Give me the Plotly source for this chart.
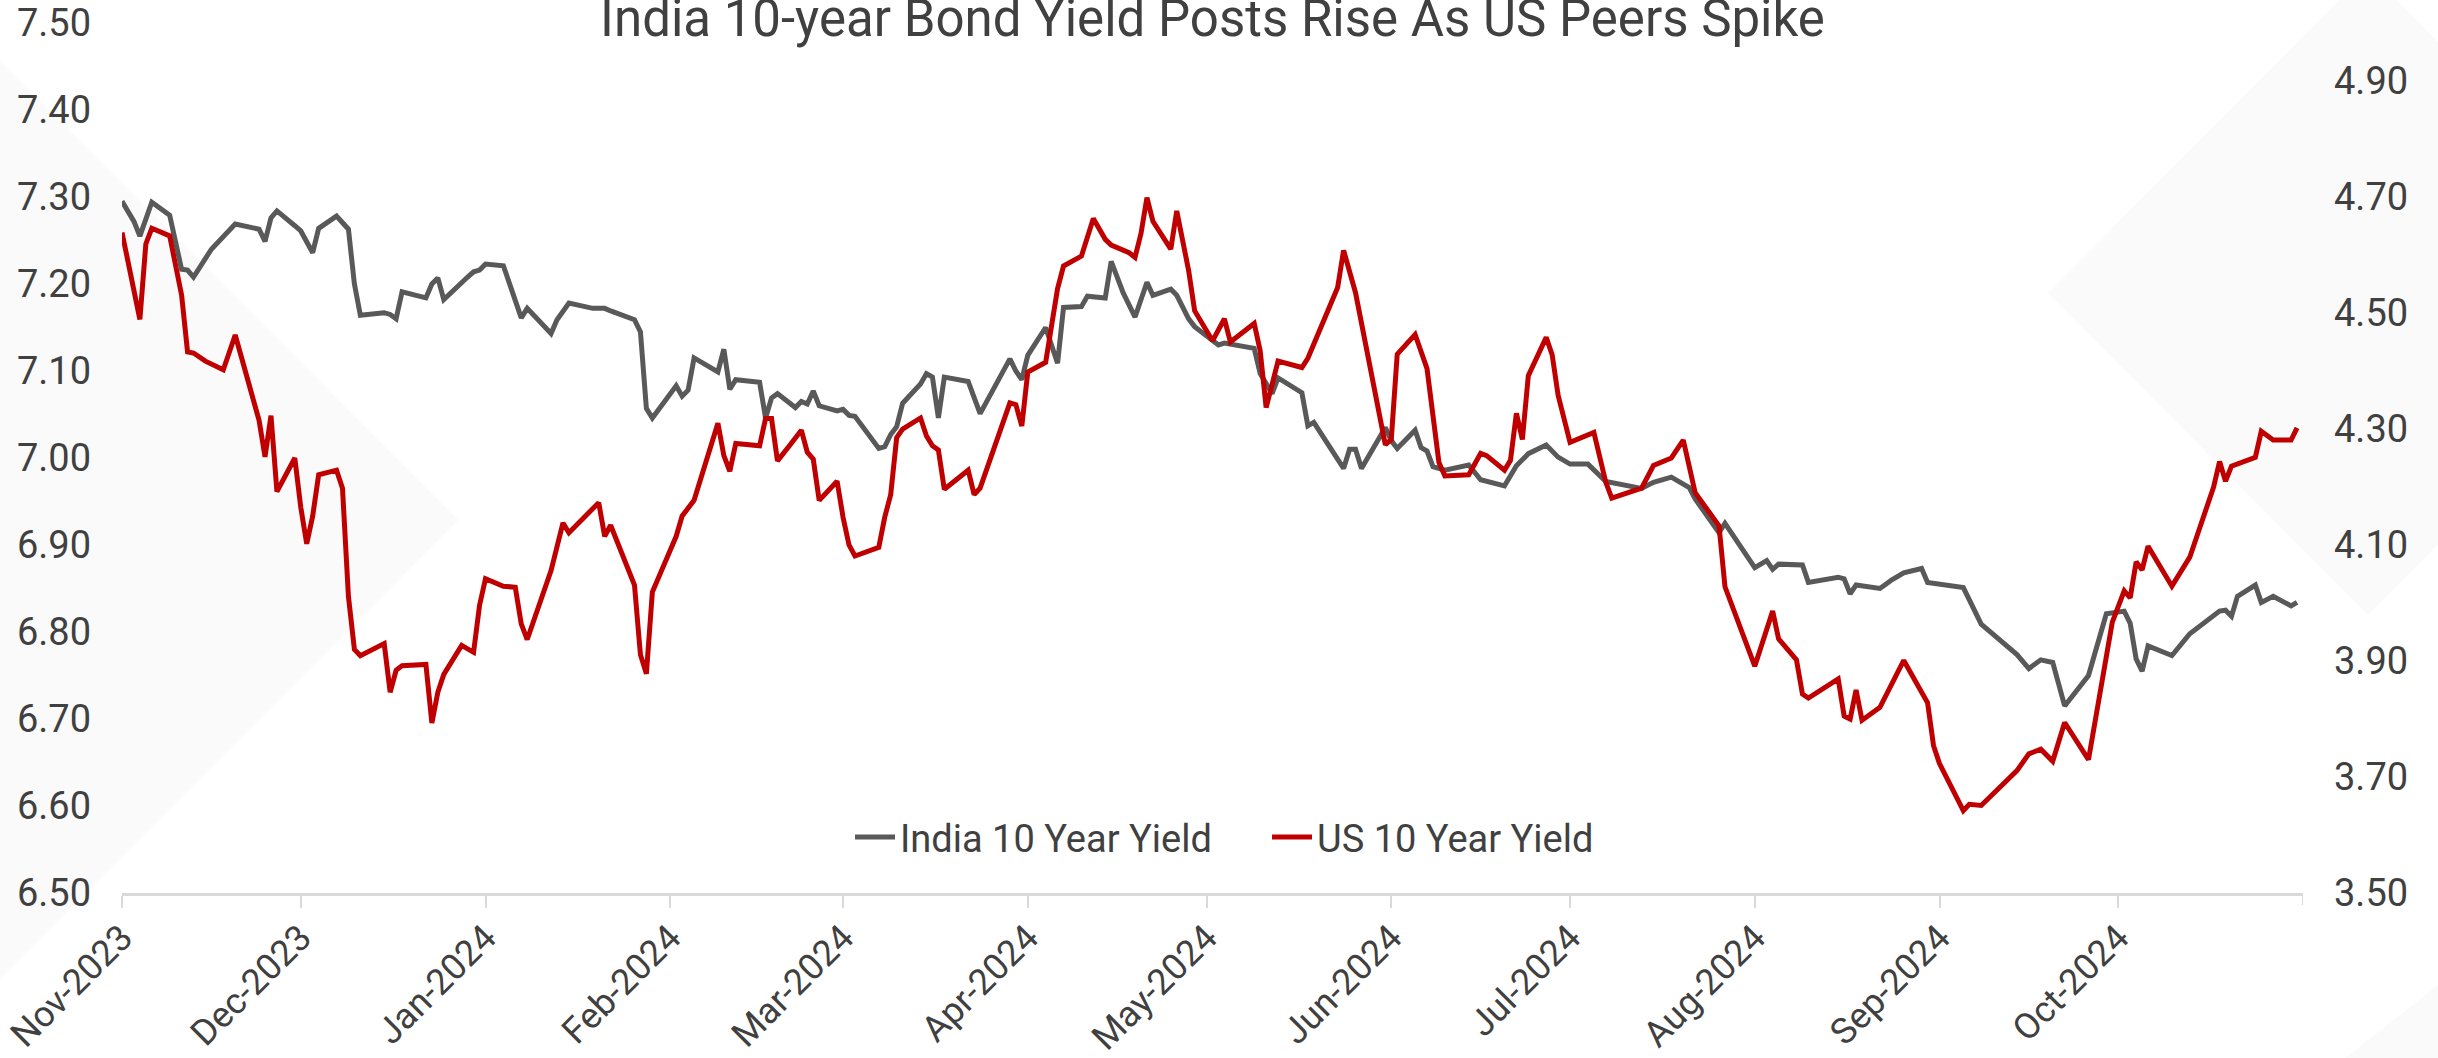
import plotly.graph_objects as go

# ---- India 10-year government bond yield (%), left axis ----
india_dates = [
    "2023-11-01", "2023-11-03", "2023-11-04", "2023-11-06", "2023-11-09", "2023-11-11", "2023-11-12",
    "2023-11-13", "2023-11-16", "2023-11-20", "2023-11-24", "2023-11-25", "2023-11-26", "2023-11-27",
    "2023-11-30", "2023-12-01", "2023-12-03", "2023-12-04", "2023-12-07", "2023-12-09", "2023-12-10",
    "2023-12-11", "2023-12-15", "2023-12-16", "2023-12-17", "2023-12-18", "2023-12-22", "2023-12-23",
    "2023-12-24", "2023-12-25", "2023-12-29", "2023-12-30", "2023-12-31", "2024-01-01", "2024-01-04",
    "2024-01-06", "2024-01-07", "2024-01-08", "2024-01-12", "2024-01-13", "2024-01-14", "2024-01-15",
    "2024-01-19", "2024-01-21", "2024-01-22", "2024-01-26", "2024-01-27", "2024-01-28", "2024-01-29",
    "2024-02-02", "2024-02-03", "2024-02-04", "2024-02-05", "2024-02-09", "2024-02-10", "2024-02-11",
    "2024-02-12", "2024-02-16", "2024-02-17", "2024-02-18", "2024-02-19", "2024-02-22", "2024-02-23",
    "2024-02-24", "2024-02-25", "2024-02-26", "2024-02-29", "2024-03-01", "2024-03-02", "2024-03-03",
    "2024-03-07", "2024-03-08", "2024-03-09", "2024-03-10", "2024-03-11", "2024-03-14", "2024-03-15",
    "2024-03-16", "2024-03-17", "2024-03-18", "2024-03-22", "2024-03-24", "2024-03-29", "2024-03-30",
    "2024-03-31", "2024-04-01", "2024-04-04", "2024-04-06", "2024-04-07", "2024-04-10", "2024-04-11",
    "2024-04-14", "2024-04-15", "2024-04-17", "2024-04-19", "2024-04-21", "2024-04-22", "2024-04-25",
    "2024-04-26", "2024-04-28", "2024-04-29", "2024-05-02", "2024-05-03", "2024-05-04", "2024-05-09",
    "2024-05-10", "2024-05-12", "2024-05-13", "2024-05-17", "2024-05-18", "2024-05-19", "2024-05-24",
    "2024-05-25", "2024-05-26", "2024-05-27", "2024-05-31", "2024-06-01", "2024-06-02", "2024-06-05",
    "2024-06-06", "2024-06-07", "2024-06-08", "2024-06-10", "2024-06-14", "2024-06-16", "2024-06-20",
    "2024-06-21", "2024-06-22", "2024-06-24", "2024-06-27", "2024-06-29", "2024-07-01", "2024-07-04",
    "2024-07-07", "2024-07-13", "2024-07-15", "2024-07-18", "2024-07-20", "2024-07-21", "2024-07-22",
    "2024-07-26", "2024-07-27", "2024-08-01", "2024-08-03", "2024-08-04", "2024-08-05", "2024-08-08",
    "2024-08-09", "2024-08-10", "2024-08-15", "2024-08-16", "2024-08-17", "2024-08-18", "2024-08-22",
    "2024-08-23", "2024-08-24", "2024-08-26", "2024-08-29", "2024-08-30", "2024-09-01", "2024-09-05",
    "2024-09-08", "2024-09-14", "2024-09-16", "2024-09-18", "2024-09-20", "2024-09-22", "2024-09-26",
    "2024-09-29", "2024-10-02", "2024-10-03", "2024-10-04", "2024-10-05", "2024-10-06", "2024-10-10",
    "2024-10-13", "2024-10-18", "2024-10-19", "2024-10-20", "2024-10-21", "2024-10-24", "2024-10-25",
    "2024-10-27", "2024-10-30", "2024-10-31",
]
india_yield = [
    7.295, 7.272, 7.255, 7.294, 7.279, 7.217, 7.216,
    7.208, 7.240, 7.269, 7.263, 7.249, 7.276, 7.284,
    7.267, 7.261, 7.236, 7.264, 7.278, 7.263, 7.200,
    7.164, 7.167, 7.165, 7.160, 7.191, 7.184, 7.200,
    7.207, 7.182, 7.208, 7.214, 7.216, 7.223, 7.221,
    7.182, 7.161, 7.172, 7.143, 7.159, 7.168, 7.178,
    7.172, 7.172, 7.169, 7.159, 7.145, 7.057, 7.046,
    7.083, 7.071, 7.078, 7.115, 7.099, 7.125, 7.079,
    7.090, 7.087, 7.046, 7.069, 7.074, 7.058, 7.065,
    7.062, 7.077, 7.060, 7.054, 7.056, 7.049, 7.048,
    7.011, 7.013, 7.027, 7.036, 7.063, 7.085, 7.097,
    7.093, 7.046, 7.093, 7.088, 7.051, 7.114, 7.100,
    7.090, 7.118, 7.150, 7.109, 7.173, 7.174, 7.186,
    7.184, 7.226, 7.190, 7.162, 7.202, 7.187, 7.194,
    7.187, 7.160, 7.151, 7.135, 7.130, 7.132, 7.126,
    7.097, 7.074, 7.092, 7.075, 7.037, 7.041, 6.988,
    7.010, 7.010, 6.988, 7.035, 7.020, 7.011, 7.032,
    7.012, 7.008, 6.990, 6.986, 6.992, 6.975, 6.968,
    6.979, 6.991, 7.005, 7.015, 7.001, 6.993, 6.993,
    6.973, 6.965, 6.972, 6.978, 6.969, 6.966, 6.953,
    6.914, 6.925, 6.874, 6.882, 6.872, 6.878, 6.878,
    6.877, 6.857, 6.863, 6.861, 6.844, 6.854, 6.850,
    6.855, 6.860, 6.868, 6.873, 6.857, 6.855, 6.851,
    6.809, 6.774, 6.758, 6.768, 6.765, 6.715, 6.750,
    6.821, 6.824, 6.810, 6.769, 6.755, 6.784, 6.773,
    6.798, 6.824, 6.825, 6.818, 6.841, 6.854, 6.834,
    6.841, 6.830, 6.834,
]

# ---- US 10-year Treasury yield (%), right axis ----
us_dates = [
    "2023-11-01", "2023-11-04", "2023-11-05", "2023-11-06", "2023-11-09", "2023-11-11", "2023-11-12",
    "2023-11-13", "2023-11-15", "2023-11-18", "2023-11-20", "2023-11-24", "2023-11-25", "2023-11-26",
    "2023-11-27", "2023-11-30", "2023-12-01", "2023-12-02", "2023-12-03", "2023-12-04", "2023-12-07",
    "2023-12-08", "2023-12-09", "2023-12-10", "2023-12-11", "2023-12-15", "2023-12-16", "2023-12-17",
    "2023-12-18", "2023-12-22", "2023-12-23", "2023-12-24", "2023-12-25", "2023-12-28", "2023-12-30",
    "2023-12-31", "2024-01-01", "2024-01-04", "2024-01-06", "2024-01-07", "2024-01-08", "2024-01-12",
    "2024-01-14", "2024-01-15", "2024-01-20", "2024-01-21", "2024-01-22", "2024-01-26", "2024-01-27",
    "2024-01-28", "2024-01-29", "2024-02-02", "2024-02-03", "2024-02-05", "2024-02-09", "2024-02-10",
    "2024-02-11", "2024-02-12", "2024-02-16", "2024-02-17", "2024-02-18", "2024-02-19", "2024-02-21",
    "2024-02-23", "2024-02-24", "2024-02-25", "2024-02-26", "2024-02-29", "2024-03-01", "2024-03-02",
    "2024-03-03", "2024-03-07", "2024-03-08", "2024-03-09", "2024-03-10", "2024-03-11", "2024-03-14",
    "2024-03-15", "2024-03-16", "2024-03-17", "2024-03-18", "2024-03-22", "2024-03-23", "2024-03-24",
    "2024-03-29", "2024-03-30", "2024-03-31", "2024-04-01", "2024-04-04", "2024-04-06", "2024-04-07",
    "2024-04-10", "2024-04-12", "2024-04-14", "2024-04-15", "2024-04-18", "2024-04-19", "2024-04-20",
    "2024-04-21", "2024-04-22", "2024-04-25", "2024-04-26", "2024-04-28", "2024-04-29", "2024-05-02",
    "2024-05-04", "2024-05-05", "2024-05-09", "2024-05-10", "2024-05-11", "2024-05-13", "2024-05-17",
    "2024-05-18", "2024-05-23", "2024-05-24", "2024-05-26", "2024-05-31", "2024-06-01", "2024-06-02",
    "2024-06-05", "2024-06-07", "2024-06-09", "2024-06-10", "2024-06-14", "2024-06-16", "2024-06-17",
    "2024-06-20", "2024-06-21", "2024-06-22", "2024-06-23", "2024-06-24", "2024-06-27", "2024-06-28",
    "2024-06-29", "2024-07-01", "2024-07-05", "2024-07-07", "2024-07-08", "2024-07-13", "2024-07-15",
    "2024-07-18", "2024-07-20", "2024-07-22", "2024-07-26", "2024-07-27", "2024-08-01", "2024-08-04",
    "2024-08-05", "2024-08-08", "2024-08-09", "2024-08-10", "2024-08-15", "2024-08-16", "2024-08-17",
    "2024-08-18", "2024-08-19", "2024-08-22", "2024-08-24", "2024-08-26", "2024-08-30", "2024-08-31",
    "2024-09-01", "2024-09-05", "2024-09-06", "2024-09-08", "2024-09-14", "2024-09-16", "2024-09-18",
    "2024-09-20", "2024-09-22", "2024-09-26", "2024-09-30", "2024-10-02", "2024-10-03", "2024-10-04",
    "2024-10-05", "2024-10-06", "2024-10-10", "2024-10-13", "2024-10-17", "2024-10-18", "2024-10-19",
    "2024-10-20", "2024-10-24", "2024-10-25", "2024-10-27", "2024-10-30", "2024-10-31",
]
us_yield = [
    4.639, 4.489, 4.619, 4.646, 4.633, 4.531, 4.433,
    4.431, 4.417, 4.402, 4.462, 4.315, 4.252, 4.323,
    4.192, 4.250, 4.165, 4.102, 4.150, 4.221, 4.229,
    4.198, 4.011, 3.920, 3.909, 3.930, 3.846, 3.884,
    3.892, 3.894, 3.793, 3.846, 3.877, 3.927, 3.915,
    3.996, 4.042, 4.029, 4.027, 3.964, 3.937, 4.056,
    4.138, 4.121, 4.173, 4.115, 4.134, 4.031, 3.911,
    3.878, 4.019, 4.115, 4.150, 4.177, 4.310, 4.254,
    4.227, 4.275, 4.271, 4.318, 4.318, 4.245, 4.271,
    4.298, 4.260, 4.248, 4.177, 4.210, 4.148, 4.100,
    4.081, 4.096, 4.148, 4.187, 4.285, 4.300, 4.319,
    4.288, 4.271, 4.264, 4.196, 4.229, 4.187, 4.198,
    4.345, 4.342, 4.305, 4.398, 4.415, 4.542, 4.581,
    4.598, 4.663, 4.627, 4.617, 4.604, 4.596, 4.637,
    4.699, 4.658, 4.610, 4.676, 4.573, 4.504, 4.452,
    4.490, 4.450, 4.482, 4.435, 4.337, 4.417, 4.406,
    4.422, 4.544, 4.608, 4.535, 4.273, 4.282, 4.429,
    4.463, 4.404, 4.242, 4.219, 4.221, 4.258, 4.254,
    4.229, 4.246, 4.327, 4.282, 4.392, 4.458, 4.428,
    4.358, 4.277, 4.294, 4.208, 4.181, 4.198, 4.237,
    4.250, 4.281, 4.190, 4.133, 4.028, 3.891, 3.986,
    3.938, 3.902, 3.843, 3.836, 3.869, 3.805, 3.800,
    3.850, 3.798, 3.820, 3.861, 3.901, 3.828, 3.754,
    3.723, 3.642, 3.653, 3.651, 3.711, 3.740, 3.748,
    3.727, 3.794, 3.730, 3.967, 4.021, 4.009, 4.071,
    4.057, 4.098, 4.029, 4.079, 4.200, 4.244, 4.210,
    4.236, 4.251, 4.296, 4.281, 4.281, 4.302,
]

# ---- x-axis month ticks ----
month_ticks = [
    "2023-11-01", "2023-12-01", "2024-01-01", "2024-02-01", "2024-03-01", "2024-04-01",
    "2024-05-01", "2024-06-01", "2024-07-01", "2024-08-01", "2024-09-01", "2024-10-01",
]
month_labels = [
    "Nov-2023", "Dec-2023", "Jan-2024", "Feb-2024", "Mar-2024", "Apr-2024",
    "May-2024", "Jun-2024", "Jul-2024", "Aug-2024", "Sep-2024", "Oct-2024",
]

TEXT = "#404040"
FONT = "Roboto"
W, H = 2438, 1058
M_L, M_R, M_T, M_B = 122, 135, 23, 165

fig = go.Figure()
fig.add_trace(go.Scatter(
    x=india_dates, y=india_yield, name="India 10 Year Yield", mode="lines",
    line=dict(color="#595959", width=5), yaxis="y",
))
fig.add_trace(go.Scatter(
    x=us_dates, y=us_yield, name="US 10 Year Yield", mode="lines",
    line=dict(color="#c00000", width=5), yaxis="y2",
))

# faint decorative diamonds in the background (paper coordinates)
pw, ph = W - M_L - M_R, H - M_T - M_B


def px(x, y):
    return (x - M_L) / pw, (H - M_B - y) / ph


def poly(points):
    pts = [px(x, y) for x, y in points]
    return "M " + " L ".join(f"{a:.4f},{b:.4f}" for a, b in pts) + " Z"


shapes = []
for pts in (
    [(-459, 520), (0, 61), (459, 520), (0, 979)],
    [(2048, 293), (2368, -29), (2688, 293), (2368, 615)],
    [(2345, 1058), (2470, 960), (2600, 1058)],
):
    shapes.append(dict(type="path", xref="paper", yref="paper", path=poly(pts),
                       fillcolor="#fafafa", line=dict(width=0), layer="below"))

# closing tick at the right end of the date axis
shapes.append(dict(type="line", xref="x", yref="paper", x0="2024-11-01", x1="2024-11-01",
                   ysizemode="pixel", yanchor=0, y0=0, y1=-12,
                   line=dict(color="#d9d9d9", width=2)))

fig.update_layout(
    width=W, height=H,
    margin=dict(l=M_L, r=M_R, t=M_T, b=M_B, autoexpand=False),
    paper_bgcolor="white", plot_bgcolor="rgba(0,0,0,0)",
    font=dict(family=FONT, color=TEXT, size=38),
    title=dict(text="India 10-year Bond Yield Posts Rise As US Peers Spike",
               x=0.5, xanchor="center", xref="paper",
               y=1 - 18 / H, yanchor="middle", yref="container",
               font=dict(family=FONT, size=51, color=TEXT)),
    xaxis=dict(
        type="date", range=["2023-11-01", "2024-11-01"], automargin=False,
        tickmode="array", tickvals=month_ticks, ticktext=month_labels,
        tickangle=-45, ticks="outside", ticklen=12, tickwidth=2, tickcolor="#d9d9d9",
        ticklabelstandoff=-6,
        showline=True, linecolor="#d9d9d9", linewidth=3,
        showgrid=False, zeroline=False,
        tickfont=dict(family=FONT, size=36, color=TEXT),
    ),
    yaxis=dict(
        range=[6.5, 7.5], tick0=6.5, dtick=0.1, tickformat=".2f", automargin=False,
        showgrid=False, zeroline=False, showline=False, ticks="",
        ticklabelstandoff=30,
        tickfont=dict(family=FONT, size=38, color=TEXT),
    ),
    yaxis2=dict(
        range=[3.5, 5.0], tick0=3.5, dtick=0.2, tickformat=".2f", automargin=False,
        overlaying="y", side="right",
        showgrid=False, zeroline=False, showline=False, ticks="",
        ticklabelstandoff=30,
        tickfont=dict(family=FONT, size=38, color=TEXT),
    ),
    legend=dict(
        orientation="h", x=0.525, xanchor="center", y=0.064, yanchor="middle",
        bgcolor="rgba(0,0,0,0)", font=dict(family=FONT, size=38, color=TEXT),
        itemwidth=40, entrywidth=362,
    ),
    shapes=shapes,
    showlegend=True,
)

fig.write_html("out.html")
